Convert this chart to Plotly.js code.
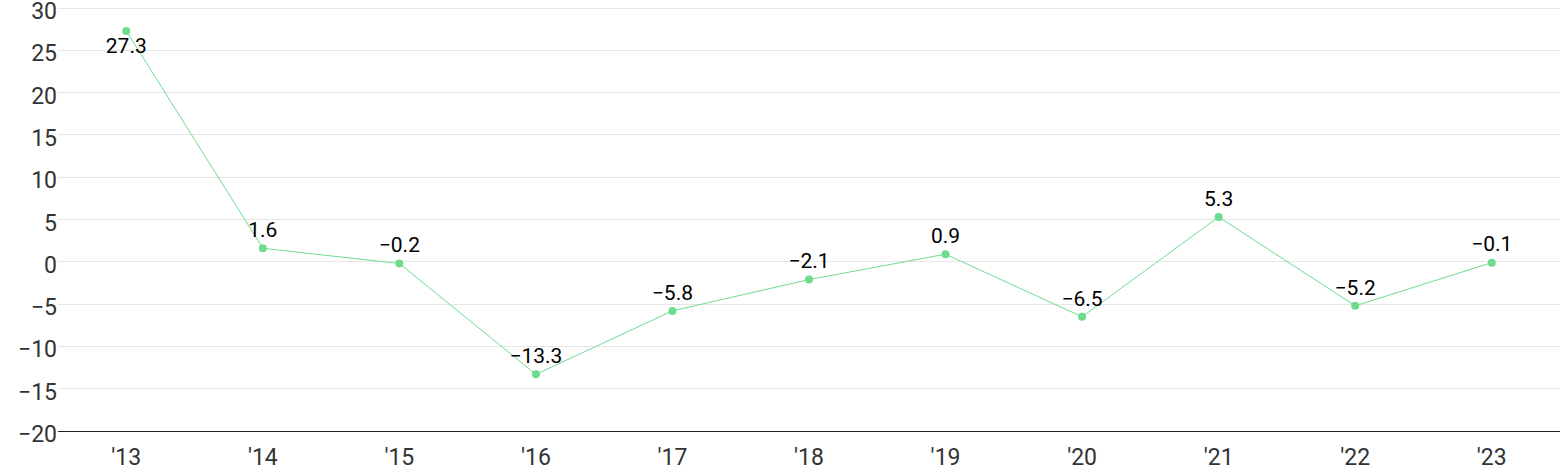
<!DOCTYPE html>
<html><head><meta charset="utf-8">
<script src="https://cdn.plot.ly/plotly-3.0.1.min.js"></script>
<style>html,body{margin:0;padding:0;background:#fff}#chart{width:1560px;height:471px}</style>
</head><body><div id="chart"></div>
<script>
const years = ["'13","'14","'15","'16","'17","'18","'19","'20","'21","'22","'23"];
const values = [27.3, 1.6, -0.2, -13.3, -5.8, -2.1, 0.9, -6.5, 5.3, -5.2, -0.1];
const yTicks = [-20, -15, -10, -5, 0, 5, 10, 15, 20, 25, 30];

const labels = values.map(v => v.toFixed(1).replace('-', '\u2212'));
const positions = values.map((v, i) => i === 0 ? 'bottom center' : 'top center');

Plotly.newPlot('chart', [{
  x: years, y: values, type: 'scatter', mode: 'lines+markers+text',
  text: labels, textposition: positions,
  textfont: {family: 'Roboto, sans-serif', size: 21, color: '#000'},
  line: {color: '#6ddc8f', width: 1},
  marker: {color: '#6ddc8f', size: 8},
  cliponaxis: false, hoverinfo: 'none'
}], {
  width: 1560, height: 471,
  margin: {l: 58, r: 0, t: 0, b: 40},
  paper_bgcolor: '#fff', plot_bgcolor: '#fff',
  showlegend: false,
  font: {family: 'Roboto, sans-serif', color: '#333'},
  xaxis: {type: 'category', range: [-0.5, 10.5], showgrid: false, zeroline: false,
          showline: true, linecolor: '#222', linewidth: 1, ticks: '',
          tickfont: {size: 23, color: '#333'}, ticklabelstandoff: 5, fixedrange: true},
  yaxis: {range: [-20, 30.95], tickvals: yTicks, showgrid: true, gridcolor: '#e6e6e6', gridwidth: 1,
          zeroline: true, zerolinecolor: '#e6e6e6', zerolinewidth: 1, showline: false, ticks: '', ticklen: 0,
          ticklabeloverflow: 'allow', ticklabelshift: 3,
          tickfont: {size: 23, color: '#333'}, ticklabelstandoff: 0, fixedrange: true}
}, {displayModeBar: false, staticPlot: true});
</script></body></html>
